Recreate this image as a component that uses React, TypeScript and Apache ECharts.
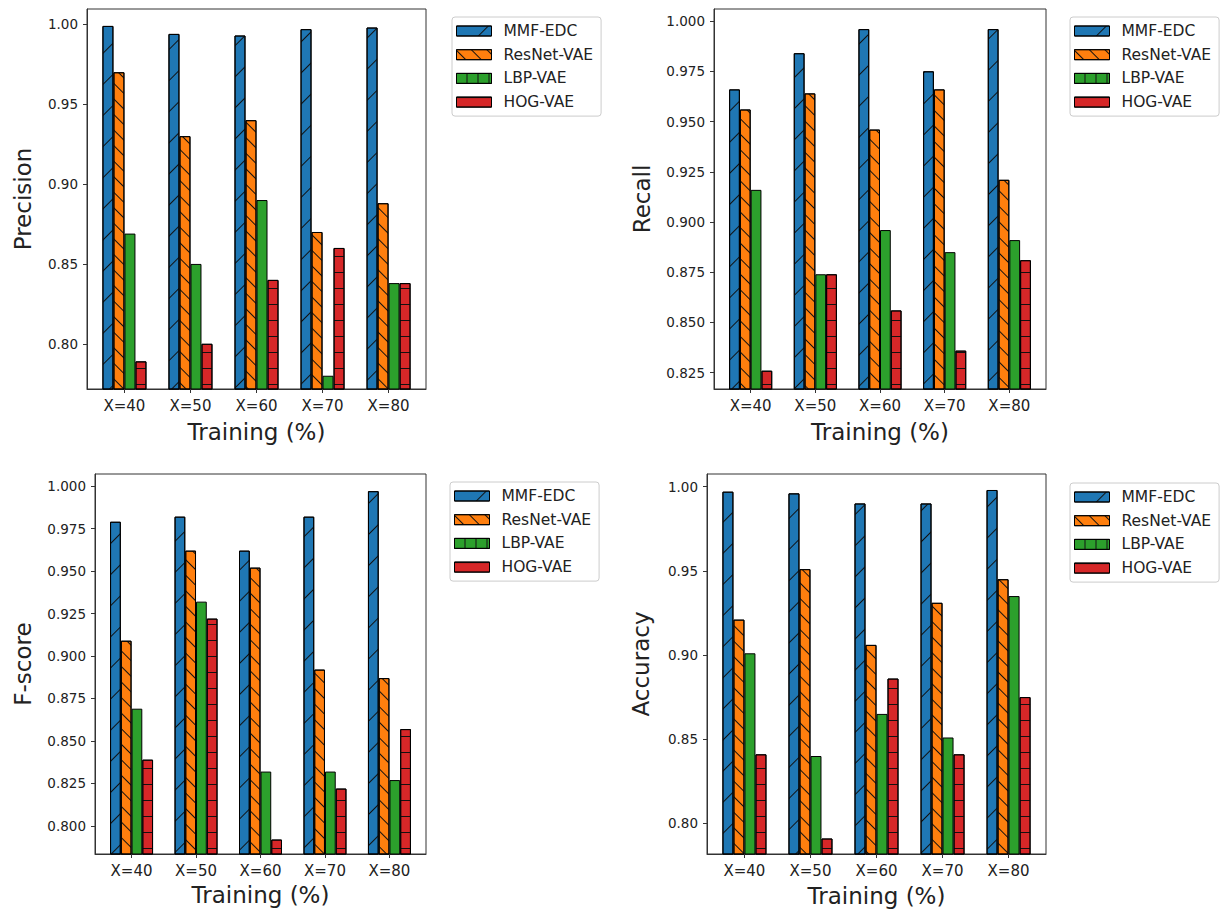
import React, { useEffect, useRef } from 'react';
import * as echarts from 'echarts';

const categories = ['X=40', 'X=50', 'X=60', 'X=70', 'X=80'];
const seriesNames = ['MMF-EDC', 'ResNet-VAE', 'LBP-VAE', 'HOG-VAE'];
const xAxisTitle = 'Training (%)';

const precisionMMF = [0.999, 0.994, 0.993, 0.997, 0.998];
const precisionResNet = [0.970, 0.930, 0.940, 0.870, 0.888];
const precisionLBP = [0.869, 0.850, 0.890, 0.780, 0.838];
const precisionHOG = [0.789, 0.800, 0.840, 0.860, 0.838];

const recallMMF = [0.966, 0.984, 0.996, 0.975, 0.996];
const recallResNet = [0.956, 0.964, 0.946, 0.966, 0.921];
const recallLBP = [0.916, 0.874, 0.896, 0.885, 0.891];
const recallHOG = [0.826, 0.874, 0.856, 0.836, 0.881];

const fscoreMMF = [0.979, 0.982, 0.962, 0.982, 0.997];
const fscoreResNet = [0.909, 0.962, 0.952, 0.892, 0.887];
const fscoreLBP = [0.869, 0.932, 0.832, 0.832, 0.827];
const fscoreHOG = [0.839, 0.922, 0.792, 0.822, 0.857];

const accuracyMMF = [0.997, 0.996, 0.990, 0.990, 0.998];
const accuracyResNet = [0.921, 0.951, 0.906, 0.931, 0.945];
const accuracyLBP = [0.901, 0.840, 0.865, 0.851, 0.935];
const accuracyHOG = [0.841, 0.791, 0.886, 0.841, 0.875];

const precisionTicks = [0.80, 0.85, 0.90, 0.95, 1.00];
const recallTicks = [0.825, 0.850, 0.875, 0.900, 0.925, 0.950, 0.975, 1.000];
const fscoreTicks = [0.800, 0.825, 0.850, 0.875, 0.900, 0.925, 0.950, 0.975, 1.000];
const accuracyTicks = [0.80, 0.85, 0.90, 0.95, 1.00];

const colors = ['#1f77b4', '#ff7f0e', '#2ca02c', '#d62728'];
const hatchColor = '#111111';
const decals: any[] = [
  { symbol: 'rect', symbolSize: 1, dashArrayX: [1, 0], dashArrayY: [1, 21], rotation: -Math.PI / 4, color: hatchColor },
  { symbol: 'rect', symbolSize: 1, dashArrayX: [1, 0], dashArrayY: [1, 10], rotation: Math.PI / 4, color: hatchColor },
  null,
  { symbol: 'rect', symbolSize: 1, dashArrayX: [1, 0], dashArrayY: [1, 15], rotation: 0, color: hatchColor },
];
const legendDecals: any[] = [
  decals[0],
  decals[1],
  { symbol: 'rect', symbolSize: 1, dashArrayX: [1, 0], dashArrayY: [1, 10], rotation: Math.PI / 2, color: hatchColor },
  decals[3],
];

const panels = [
  {
    title: 'Precision', series: [precisionMMF, precisionResNet, precisionLBP, precisionHOG],
    ticks: precisionTicks, decimals: 2, min: 0.7717, max: 1.0096,
    grid: { left: 87, top: 9, width: 339, height: 380 }, yNameGap: 53, xNameGap: 31,
    legend: { left: 452, top: 17 },
  },
  {
    title: 'Recall', series: [recallMMF, recallResNet, recallLBP, recallHOG],
    ticks: recallTicks, decimals: 3, min: 0.8169, max: 1.006,
    grid: { left: 714, top: 9, width: 332, height: 380 }, yNameGap: 61, xNameGap: 31,
    legend: { left: 1070, top: 17 },
  },
  {
    title: 'F-score', series: [fscoreMMF, fscoreResNet, fscoreLBP, fscoreHOG],
    ticks: fscoreTicks, decimals: 3, min: 0.7835, max: 1.0071,
    grid: { left: 95, top: 474, width: 331, height: 380 }, yNameGap: 61, xNameGap: 29.5,
    legend: { left: 450, top: 482 },
  },
  {
    title: 'Accuracy', series: [accuracyMMF, accuracyResNet, accuracyLBP, accuracyHOG],
    ticks: accuracyTicks, decimals: 2, min: 0.7818, max: 1.0075,
    grid: { left: 707, top: 474, width: 339, height: 380 }, yNameGap: 54.5, xNameGap: 30.5,
    legend: { left: 1070, top: 483 },
  },
];

const FONT = 'DejaVu Sans';
const AXIS_COLOR = '#333333';
const TEXT_COLOR = '#222222';

function buildOption() {
  const catIdx = categories.map((_, i) => i);
  return {
    animation: false,
    textStyle: { fontFamily: FONT },
    grid: panels.map((p) => ({
      ...p.grid, show: true, borderColor: AXIS_COLOR, borderWidth: 1, backgroundColor: 'transparent', containLabel: false,
    })),
    xAxis: panels.map((p, i) => ({
      type: 'value', gridIndex: i, min: -0.567, max: catIdx.length - 1 + 0.567,
      axisLine: { show: true, onZero: false, lineStyle: { color: AXIS_COLOR, width: 1 } },
      axisTick: { show: true, customValues: catIdx, length: 4, lineStyle: { color: AXIS_COLOR, width: 1 } },
      axisLabel: {
        customValues: catIdx, formatter: (v: number) => categories[Math.round(v)] ?? '',
        fontSize: 15, color: TEXT_COLOR, margin: 9, fontFamily: FONT,
      },
      splitLine: { show: false },
      name: xAxisTitle, nameLocation: 'middle', nameGap: p.xNameGap,
      nameTextStyle: { fontSize: 23, color: TEXT_COLOR, fontFamily: FONT },
    })),
    yAxis: panels.map((p, i) => ({
      type: 'value', gridIndex: i, min: p.min, max: p.max,
      axisLine: { show: true, onZero: false, lineStyle: { color: AXIS_COLOR, width: 1 } },
      axisTick: { show: true, customValues: p.ticks, length: 4, lineStyle: { color: AXIS_COLOR, width: 1 } },
      axisLabel: {
        customValues: p.ticks, formatter: (v: number) => v.toFixed(p.decimals),
        fontSize: 13.5, color: TEXT_COLOR, margin: 9, fontFamily: FONT,
      },
      splitLine: { show: false },
      name: p.title, nameLocation: 'middle', nameGap: p.yNameGap,
      nameTextStyle: { fontSize: 23, color: TEXT_COLOR, fontFamily: FONT },
    })),
    legend: panels.map((p) => ({
      orient: 'vertical', left: p.legend.left, top: p.legend.top,
      data: seriesNames.map((name, j) => ({
        name,
        itemStyle: { color: colors[j], borderColor: '#000000', borderWidth: 1, decal: legendDecals[j] },
      })),
      icon: 'rect', itemWidth: 35, itemHeight: 10, itemGap: 7.7, padding: [6, 8, 6, 4],
      borderColor: '#cccccc', borderWidth: 1, borderRadius: 3, backgroundColor: '#ffffff',
      selectedMode: false,
      itemStyle: { borderColor: '#000000', borderWidth: 1 },
      textStyle: { fontSize: 15.5, color: TEXT_COLOR, fontFamily: FONT, lineHeight: 16, padding: [0, 0, 0, 7] },
    })),
    series: panels.flatMap((p, i) =>
      p.series.map((vals, j) => ({
        type: 'bar', name: seriesNames[j], xAxisIndex: i, yAxisIndex: i,
        data: vals.map((v, k) => [k, v]),
        barWidth: '16.67%', barGap: '0%', clip: true,
        itemStyle: decals[j]
          ? { color: colors[j], borderColor: '#000000', borderWidth: 1, decal: decals[j] }
          : { color: colors[j], borderColor: '#000000', borderWidth: 1 },
        emphasis: { disabled: true },
      }))
    ),
  };
}

export default function App() {
  const ref = useRef<HTMLDivElement>(null);
  useEffect(() => {
    if (!ref.current) return;
    const chart = echarts.init(ref.current, undefined, { renderer: 'svg' });
    chart.setOption(buildOption() as any);
    return () => chart.dispose();
  }, []);
  return <div ref={ref} style={{ position: 'absolute', left: 0, top: 0, width: 1221, height: 910, background: '#fff' }} />;
}
